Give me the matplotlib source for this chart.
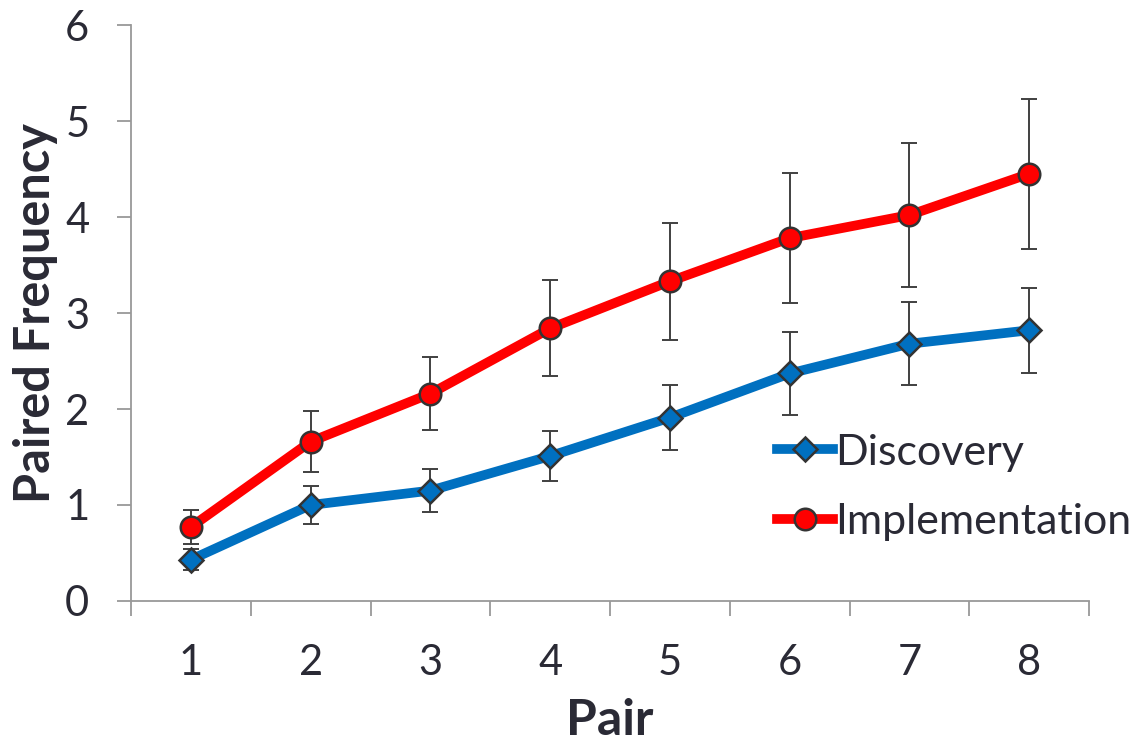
import numpy as np
import matplotlib.pyplot as plt

pares = [1, 2, 3, 4, 5, 6, 7, 8]
discovery = [0.43, 1.00, 1.15, 1.51, 1.91, 2.37, 2.68, 2.82]
discovery_err = [0.11, 0.20, 0.22, 0.26, 0.34, 0.43, 0.43, 0.44]
implementation = [0.77, 1.66, 2.16, 2.84, 3.33, 3.78, 4.02, 4.45]
implementation_err = [0.18, 0.32, 0.38, 0.50, 0.61, 0.68, 0.75, 0.78]

plt.rcParams['font.family'] = ['Lato', 'DejaVu Sans']
texto = '#2a2a35'

fig = plt.figure(figsize=(11.46, 7.45), dpi=100)
ax = fig.add_axes([0.1143, 0.1933, 0.836, 0.7731])

# barras de error primero, para que queden debajo de las lineas
ax.errorbar(pares, discovery, yerr=discovery_err, fmt='none', ecolor='#404040',
            elinewidth=1.4, capsize=6, capthick=1.4, zorder=2)
ax.errorbar(pares, implementation, yerr=implementation_err, fmt='none', ecolor='#404040',
            elinewidth=1.4, capsize=6, capthick=1.4, zorder=2)

ax.plot(pares, discovery, color='#0070C0', lw=7, marker='D', markersize=12.5,
        markerfacecolor='#0070C0', markeredgecolor='#333333', markeredgewidth=1.8,
        label='Discovery', zorder=3)
ax.plot(pares, implementation, color='#FF0000', lw=7, marker='o', markersize=15.5,
        markerfacecolor='#FF0000', markeredgecolor='#333333', markeredgewidth=1.8,
        label='Implementation', zorder=3)

ax.set_xlim(0.5, 8.5)
ax.set_ylim(0, 6)
ax.set_yticks(range(0, 7))
ax.set_xticks(pares)
ax.set_xticklabels([str(p) for p in pares])
ax.set_xticks(np.arange(0.5, 9, 1), minor=True)

for s in ['top', 'right']:
    ax.spines[s].set_visible(False)
for s in ['left', 'bottom']:
    ax.spines[s].set_color('#999999')
    ax.spines[s].set_linewidth(1.3)

ax.tick_params(axis='y', direction='out', length=10, width=1.3, color='#999999',
               labelsize=30, labelcolor=texto, pad=20)
ax.tick_params(axis='x', which='major', length=0, labelsize=30, labelcolor=texto, pad=31)
ax.tick_params(axis='x', which='minor', direction='out', length=11, width=1.3, color='#999999')

ax.set_xlabel('Pair', fontsize=36, fontweight='bold', color=texto, va='center')
ax.set_ylabel('Paired Frequency', fontsize=35, fontweight='bold', color=texto, va='center')
ax.xaxis.set_label_coords(0.5, -0.207)
ax.yaxis.set_label_coords(-0.100, 0.50)

ax.legend(loc='center left', bbox_to_anchor=(0.678, 0.346), bbox_transform=fig.transFigure,
          frameon=False, fontsize=31, handlelength=1.3, handletextpad=0.05,
          labelspacing=0.73, labelcolor=texto, borderaxespad=0, borderpad=0)

fig.savefig('out.png', dpi=100)
